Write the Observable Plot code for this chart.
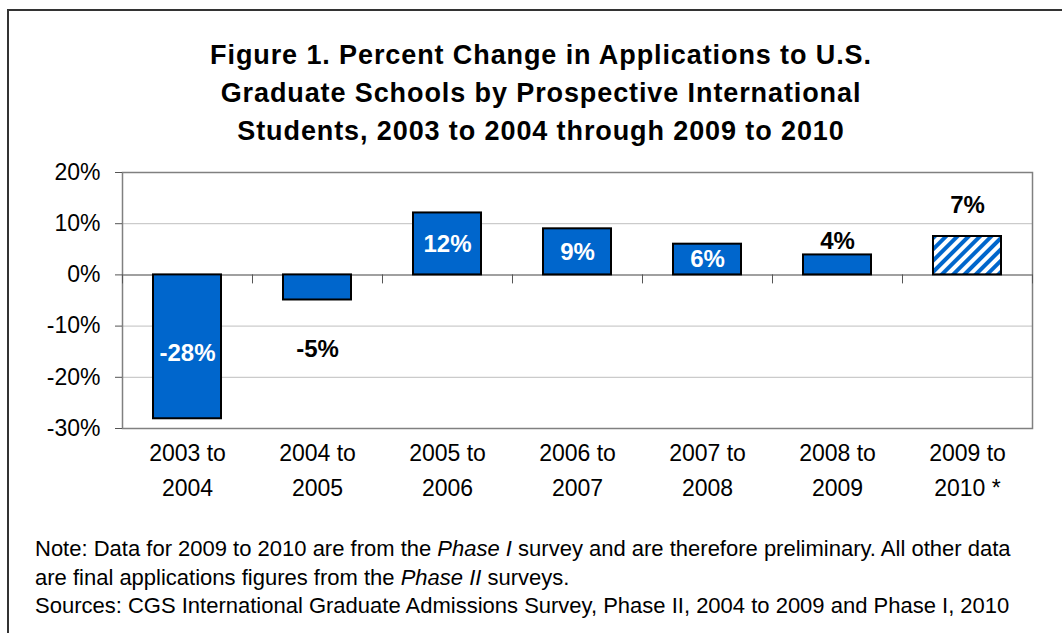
<!DOCTYPE html>
<html>
<head>
<meta charset="utf-8">
<script src="https://cdn.jsdelivr.net/npm/d3@7"></script>
<script src="https://cdn.jsdelivr.net/npm/@observablehq/plot@0.6"></script>
<style>
  html, body { margin: 0; padding: 0; background: #fff; }
  body { width: 1062px; height: 633px; overflow: hidden; position: relative; font-family: "Liberation Sans", Arial, sans-serif; }
  #frame { position: absolute; left: 7px; top: 9px; width: 1200px; height: 800px; border-left: 2px solid #333; border-top: 2px solid #333; }
  #title { position: absolute; left: 0; top: 36px; width: 1082px; text-align: center; font-weight: bold; font-size: 27px; line-height: 38px; letter-spacing: 0.9px; color: #000; }
  #chart { position: absolute; left: 0; top: 150px; }
  #caption { position: absolute; left: 35px; top: 535px; font-size: 22px; line-height: 28.5px; color: #000; white-space: nowrap; }
</style>
</head>
<body>
<div id="frame"></div>
<div id="title">Figure 1. Percent Change in Applications to U.S.<br>Graduate Schools by Prospective International<br>Students, 2003 to 2004 through 2009 to 2010</div>
<div id="chart"></div>
<div id="caption">Note: Data for 2009 to 2010 are from the <i>Phase I</i> survey and are therefore preliminary. All other data<br>are final applications figures from the <i>Phase II</i> surveys.<br>Sources: CGS International Graduate Admissions Survey, Phase II, 2004 to 2009 and Phase I, 2010</div>
<script>
const categories = ["2003 to 2004", "2004 to 2005", "2005 to 2006", "2006 to 2007", "2007 to 2008", "2008 to 2009", "2009 to 2010"];
const tickLabels = ["2003 to\n2004", "2004 to\n2005", "2005 to\n2006", "2006 to\n2007", "2007 to\n2008", "2008 to\n2009", "2009 to\n2010 *"];
const values = [-28.1, -4.9, 12.1, 9.0, 6.0, 3.9, 7.5];
const valueLabels = ["-28%", "-5%", "12%", "9%", "6%", "4%", "7%"];
const preliminary = [false, false, false, false, false, false, true];
const yTicks = [-30, -20, -10, 0, 10, 20];

const data = categories.map((c, i) => ({
  cat: c, tick: tickLabels[i], value: values[i], label: valueLabels[i], prelim: preliminary[i]
}));

const BLUE = "#0066CC";
const font = "Liberation Sans, Arial, sans-serif";

const defs = () => {
  const ns = "http://www.w3.org/2000/svg";
  const d = document.createElementNS(ns, "defs");
  const p = document.createElementNS(ns, "pattern");
  p.setAttribute("id", "hatch");
  p.setAttribute("patternUnits", "userSpaceOnUse");
  p.setAttribute("width", "8");
  p.setAttribute("height", "8");
  p.setAttribute("patternTransform", "rotate(45)");
  const bg = document.createElementNS(ns, "rect");
  bg.setAttribute("width", "8"); bg.setAttribute("height", "8"); bg.setAttribute("fill", "#fff");
  const r = document.createElementNS(ns, "rect");
  r.setAttribute("width", "4"); r.setAttribute("height", "8"); r.setAttribute("fill", BLUE);
  p.appendChild(bg); p.appendChild(r); d.appendChild(p);
  return d;
};

const lbl = (labels) => data.filter(d => labels.includes(d.label));
const txt = { x: "cat", text: "label", fontWeight: "bold", fontSize: 24 };

const chart = Plot.plot({
  width: 1062,
  height: 360,
  marginLeft: 122,
  marginRight: 30,
  marginTop: 22,
  marginBottom: 82,
  style: { fontFamily: font, background: "transparent" },
  x: { domain: categories, paddingInner: 0.477, paddingOuter: 0.2385, axis: null },
  y: { domain: [-30, 20], axis: null },
  marks: [
    defs,
    Plot.ruleY([-20, -10, 10], { stroke: "#bfbfbf", strokeWidth: 1 }),
    Plot.frame({ stroke: "#808080", strokeWidth: 1.5 }),
    Plot.ruleY([0], { stroke: "#808080", strokeWidth: 1.5 }),
    Plot.ruleX(categories, { x: d => d, dx: -65, y1: 0, y2: 0, insetBottom: -9, stroke: "#555", strokeWidth: 1 }),
    Plot.ruleX(categories.slice(-1), { x: d => d, dx: 65, y1: 0, y2: 0, insetBottom: -9, stroke: "#555", strokeWidth: 1 }),
    Plot.axisY({ ticks: yTicks, tickSize: 7, tickPadding: 15, tickFormat: d => d + "%", fontSize: 23, stroke: "#555", color: "#000", label: null }),
    Plot.barY(data, { x: "cat", y: "value", fill: d => d.prelim ? "url(#hatch)" : BLUE, stroke: "#000", strokeWidth: 2 }),
    Plot.text(lbl(["12%", "9%", "6%"]), { ...txt, y: d => d.value / 2, fill: "#fff" }),
    Plot.text(lbl(["-28%"]), { ...txt, y: d => d.value / 2, fill: "#fff", dy: 6 }),
    Plot.text(lbl(["-5%"]), { ...txt, y: "value", fill: "#000", dy: 49 }),
    Plot.text(lbl(["4%"]), { ...txt, y: "value", fill: "#000", dy: -14 }),
    Plot.text(lbl(["7%"]), { ...txt, y: "value", fill: "#000", dy: -31 }),
    Plot.text(data, { x: "cat", text: "tick", frameAnchor: "bottom", lineAnchor: "top", dy: 8, lineHeight: 1.52, fontSize: 23, fill: "#000", style: "letter-spacing:0.5px" })
  ]
});
document.getElementById("chart").appendChild(chart);
</script>
</body>
</html>
